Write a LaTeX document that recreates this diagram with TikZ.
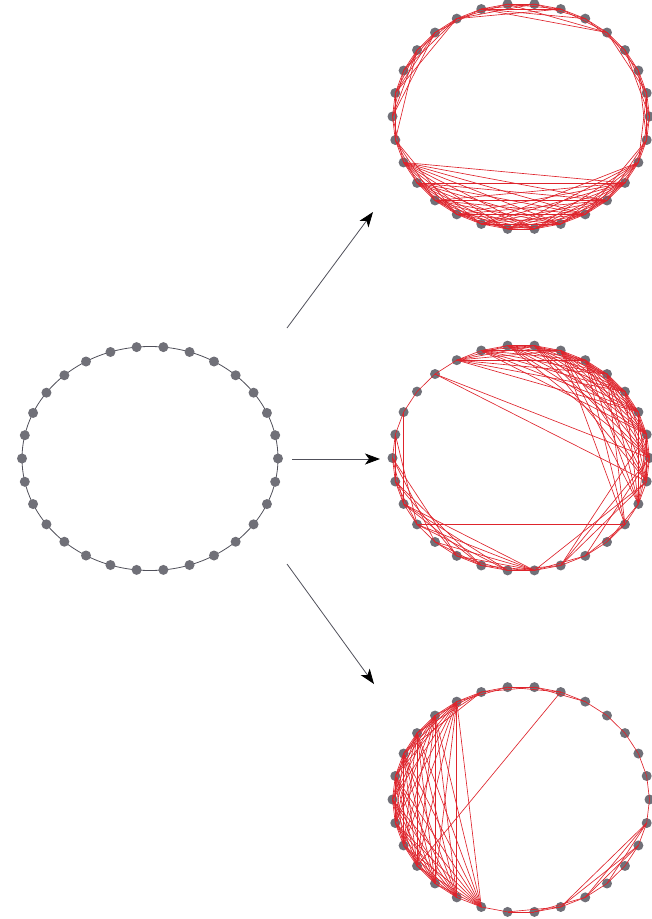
\documentclass[tikz,border=0pt]{standalone}
\usetikzlibrary{arrows.meta}
\definecolor{dotgray}{RGB}{112,112,120}
\definecolor{edgered}{RGB}{222,36,44}
\definecolor{ringgray}{RGB}{80,80,90}
\begin{document}
\begin{tikzpicture}[x=1pt,y=-1pt,
  dot/.style={circle,fill=dotgray,inner sep=0pt,minimum size=10pt},
  edge/.style={draw=edgered,line width=0.65pt},
  ring/.style={draw=ringgray,line width=0.8pt},
  arr/.style={draw=ringgray,line width=0.8pt,-{Stealth[length=15pt,width=11pt,inset=4pt,color=black]}}]
\useasboundingbox (0,0) rectangle (652,919);
% ---------- left ring ----------
\draw[ring] (150,458.5) ellipse [x radius=128, y radius=112];
\foreach \k in {0,...,29}
  \node[dot] (L\k) at ({150+128*cos(12*\k)},{458.5-112*sin(12*\k)}) {};
% ---------- right networks: nodes ----------
\foreach \n/\cy in {T/116.5,M/458,B/799.5}
  \foreach \k in {0,...,29}
    \node[dot] (\n\k) at ({521+128.5*cos(12*\k)},{\cy-113*sin(12*\k)}) {};
% ring edges for all three
\foreach \n in {T,M,B}
  \foreach \i in {0,...,29}{
    \pgfmathtruncatemacro\j{mod(\i+1,30)}
    \draw[edge] (\n\i.center) -- (\n\j.center);
  }
% ---------- top network ----------
\foreach \i in {0,...,29}{
  \pgfmathtruncatemacro\j{mod(\i+2,30)}
  \draw[edge] (T\i.center) -- (T\j.center);
}
\foreach \p in {17,...,24}{
  \pgfmathtruncatemacro\qa{\p+3}
  \foreach \q in {\qa,...,27}
    \draw[edge] (T\p.center) -- (T\q.center);
}
\foreach \i/\j in {16/19,16/20,28/21,28/22,28/23,28/24,28/25,29/25,29/26,
                   11/14,10/14,11/15,12/15,10/13,12/16,
                   5/9,6/9,4/8,6/10,7/10,4/9,0/3,1/4,29/2,28/1}
  \draw[edge] (T\i.center) -- (T\j.center);
% ---------- middle network ----------
\foreach \p in {0,...,10}{
  \pgfmathtruncatemacro\qa{\p+2}
  \pgfmathtruncatemacro\qb{min(\p+8,12)}
  \foreach \q in {\qa,...,\qb}{
    \pgfmathtruncatemacro\a{mod(\p+28,30)}
    \pgfmathtruncatemacro\b{mod(\q+28,30)}
    \draw[edge] (M\a.center) -- (M\b.center);
  }
}
\foreach \i/\j in {27/5,27/6,27/4,27/18,11/0,11/29,24/29,24/0,23/29,25/0,24/1,
                   14/18,15/19,16/20,17/21,18/22,19/23,15/20,16/21,17/22,18/23,
                   20/23,13/17,17/23,21/23,20/22,19/21,14/16,15/17,16/18,22/24,23/25,25/27,26/28}
  \draw[edge] (M\i.center) -- (M\j.center);
% ---------- bottom network ----------
\foreach \p in {10,...,19}{
  \pgfmathtruncatemacro\qa{\p+2}
  \foreach \q in {\qa,...,21}
    \draw[edge] (B\p.center) -- (B\q.center);
}
\foreach \i/\j in {6/18,6/8,7/9,5/7,8/10,9/11,9/12,9/13,
                   24/29,25/29,24/28,26/29,22/24,23/25,25/28}
  \draw[edge] (B\i.center) -- (B\j.center);
% ---------- arrows ----------
\coordinate (a1s) at (287,328);  \coordinate (a1e) at (373,212);
\coordinate (a2s) at (292,459);  \coordinate (a2e) at (380,459);
\coordinate (a3s) at (287,564);  \coordinate (a3e) at (374,684);
\draw[arr] (a1s) -- (a1e);
\draw[arr] (a2s) -- (a2e);
\draw[arr] (a3s) -- (a3e);
\end{tikzpicture}
\end{document}
